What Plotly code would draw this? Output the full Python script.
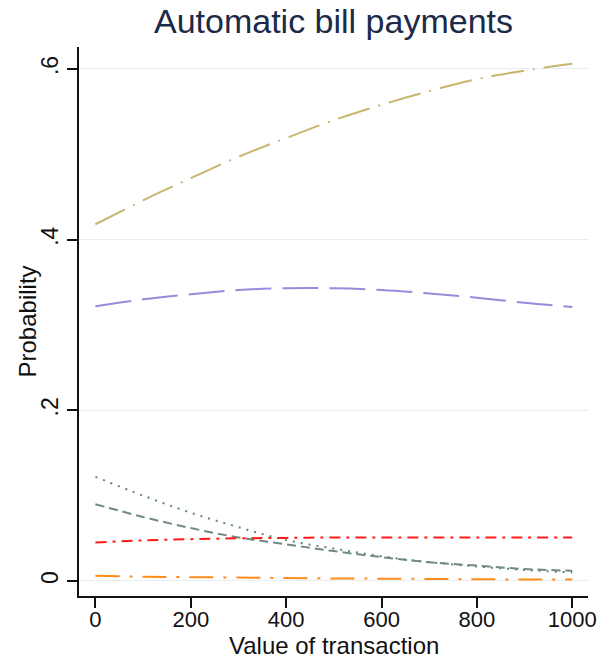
import plotly.graph_objects as go

# ---- data ----
x_values = [0, 100, 200, 300, 400, 500, 600, 700, 800, 900, 1000]
olive_longdash_dot = [0.418, 0.446, 0.472, 0.497, 0.519, 0.540, 0.558, 0.574, 0.588, 0.598, 0.606]
purple_longdash = [0.322, 0.330, 0.336, 0.341, 0.343, 0.343, 0.341, 0.337, 0.332, 0.326, 0.321]
green_dotted = [0.122, 0.100, 0.080, 0.063, 0.048, 0.038, 0.029, 0.022, 0.017, 0.013, 0.010]
grey_dashed = [0.090, 0.075, 0.062, 0.051, 0.043, 0.035, 0.028, 0.022, 0.018, 0.014, 0.012]
red_dashdot = [0.045, 0.0475, 0.049, 0.050, 0.0505, 0.051, 0.051, 0.051, 0.051, 0.051, 0.051]
orange_dashdot = [0.006, 0.005, 0.0045, 0.004, 0.0035, 0.003, 0.0027, 0.0024, 0.002, 0.0018, 0.0017]

x_ticks = [0, 200, 400, 600, 800, 1000]
y_ticks = [0, 0.2, 0.4, 0.6]
y_tick_labels = ["0", ".2", ".4", ".6"]

title_text = "Automatic bill payments"
x_title = "Value of transaction"
y_title = "Probability"

FONT = "Liberation Sans, Arial, sans-serif"
INK = "#111111"

series = [
    (olive_longdash_dot, "#c6b66e", "33px,9px,2px,9px"),
    (purple_longdash, "#958cdb", "36px,11px"),
    (green_dotted, "#5f8a66", "2px,6px"),
    (grey_dashed, "#6f8a80", "9px,5px"),
    (red_dashdot, "#ff1a1a", "11px,6px,3px,6px"),
    (orange_dashdot, "#ff8c1a", "24px,10px,3px,10px"),
]

W, H = 600, 658
ML, MR, MT, MB = 79, 12, 47, 62
PW, PH = W - ML - MR, H - MT - MB

fig = go.Figure()
for ys, color, dash in series:
    fig.add_trace(go.Scatter(
        x=x_values, y=ys, mode="lines",
        line=dict(color=color, width=2, dash=dash, shape="spline"),
        showlegend=False, hoverinfo="skip",
    ))

fig.update_layout(
    width=W, height=H,
    paper_bgcolor="white", plot_bgcolor="white",
    margin=dict(l=ML, r=MR, t=MT, b=MB, autoexpand=False),
    title=dict(text=title_text, x=0.5, xref="paper", xanchor="center",
               y=1 - 21 / H, yref="container", yanchor="middle",
               font=dict(family=FONT, size=34, color="#1c2a4a")),
    font=dict(family=FONT, color=INK),
    annotations=[
        dict(text=x_title, xref="paper", yref="paper",
             x=0.5, y=-(645 - (H - MB)) / PH, xanchor="center", yanchor="middle",
             showarrow=False, font=dict(family=FONT, size=24, color=INK)),
        dict(text=y_title, xref="paper", yref="paper", textangle=-90,
             x=(27 - ML) / PW, y=0.5, xanchor="center", yanchor="middle",
             showarrow=False, font=dict(family=FONT, size=24, color=INK)),
    ],
)

fig.update_xaxes(
    range=[-34.4, 1033], tickvals=x_ticks, ticks="outside", ticklen=10,
    tickwidth=2, tickcolor=INK, showline=True, linecolor=INK,
    linewidth=2, showgrid=False, zeroline=False,
    tickfont=dict(family=FONT, size=22, color=INK),
    ticklabelstandoff=-7,
    automargin=False,
)
fig.update_yaxes(
    range=[-0.0176, 0.6257], tickvals=y_ticks, ticktext=y_tick_labels,
    ticks="outside", ticklen=10, tickwidth=2, tickcolor=INK,
    showline=True, linecolor=INK, linewidth=2,
    showgrid=True, gridcolor="#e6eef1", gridwidth=1, zeroline=False,
    tickangle=-90,
    tickfont=dict(family=FONT, size=23, color=INK),
    automargin=False,
)

fig.write_html("out.html", config={"displayModeBar": False},
               post_script="document.body.style.margin='0';")
